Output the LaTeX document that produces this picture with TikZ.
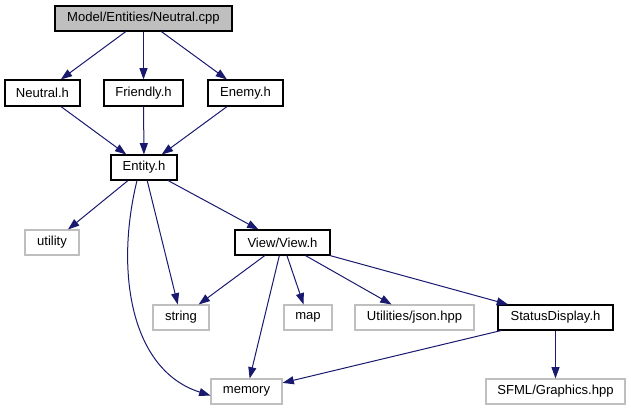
\documentclass[tikz,border=0pt]{standalone}
\usepackage{fontspec}
\setmainfont{Liberation Sans}
\usepackage{xcolor}
\usepackage{tikz}
\usetikzlibrary{arrows.meta, positioning}

\definecolor{edgeblue}{HTML}{191970}
\definecolor{extgray}{HTML}{BFBFBF}

\begin{document}
\begin{tikzpicture}[
    x=0.75pt, y=-0.75pt,
    every node/.style={font=\fontsize{9.8}{11}\selectfont, inner sep=0pt, minimum height=25*0.75pt},
    filebox/.style={draw=black, line width=0.8pt, fill=white},
    rootbox/.style={draw=black, line width=0.8pt, fill=extgray},
    extbox/.style={draw=extgray, line width=0.8pt, fill=white},
    dep/.style={-{Triangle[length=8.5pt, width=6pt]}, line width=0.75pt, edgeblue}
]

\useasboundingbox (0,0) rectangle (631,411);

\def\rowA{18.5}   % 根文件
\def\rowB{93}     % 第一层头文件
\def\rowC{167.5}
\def\rowD{242.5}
\def\rowE{317.5}
\def\rowF{391.5}

% 根节点
\node[rootbox, minimum width=177*0.75pt] (cpp) at (143.5,\rowA) {Model/Entities/Neutral.cpp};

% 项目内头文件（黑框）
\node[filebox, minimum width=75*0.75pt, minimum height=26*0.75pt] (neutralh) at (42.5,\rowB) {Neutral.h};
\node[filebox, minimum width=79*0.75pt, minimum height=26*0.75pt] (friendlyh) at (143.5,\rowB) {Friendly.h};
\node[filebox, minimum width=75*0.75pt, minimum height=26*0.75pt] (enemyh) at (245.5,\rowB) {Enemy.h};
\node[filebox, minimum width=66*0.75pt] (entityh) at (144,\rowC) {Entity.h};
\node[filebox, minimum width=95*0.75pt] (viewh) at (282.5,\rowD) {View/View.h};
\node[filebox, minimum width=115*0.75pt] (statush) at (555.5,\rowE) {StatusDisplay.h};

% 外部头文件（灰框）
\node[extbox, minimum width=54*0.75pt] (utility) at (52,\rowD) {utility};
\node[extbox, minimum width=56*0.75pt] (string) at (181,\rowE) {string};
\node[extbox, minimum width=48*0.75pt] (map) at (308,\rowE) {map};
\node[extbox, minimum width=119*0.75pt] (json) at (414.5,\rowE) {Utilities/json.hpp};
\node[extbox, minimum width=71*0.75pt] (memory) at (246.5,\rowF) {memory};
\node[extbox, minimum width=139*0.75pt] (sfml) at (555.5,\rowF) {SFML/Graphics.hpp};

% 依赖箭头
\draw[dep] (cpp) -- (neutralh);
\draw[dep] (cpp) -- (friendlyh);
\draw[dep] (cpp) -- (enemyh);
\draw[dep] (neutralh) -- (entityh);
\draw[dep] (friendlyh) -- (entityh);
\draw[dep] (enemyh) -- (entityh);
\draw[dep] (entityh) -- (utility);
\draw[dep] (entityh) -- (string);
\draw[dep] (entityh) -- (viewh);
\draw[dep] ([xshift=-7*0.75pt]entityh.south) .. controls (115,270) and (130,370) .. ([yshift=-4*0.75pt]memory.west);
\draw[dep] (viewh) -- (string);
\draw[dep] (viewh) -- (memory);
\draw[dep] (viewh) -- (map);
\draw[dep] (viewh) -- (json);
\draw[dep] (viewh) -- (statush);
\draw[dep] (statush) -- (memory);
\draw[dep] (statush) -- (sfml);

\end{tikzpicture}
\end{document}
